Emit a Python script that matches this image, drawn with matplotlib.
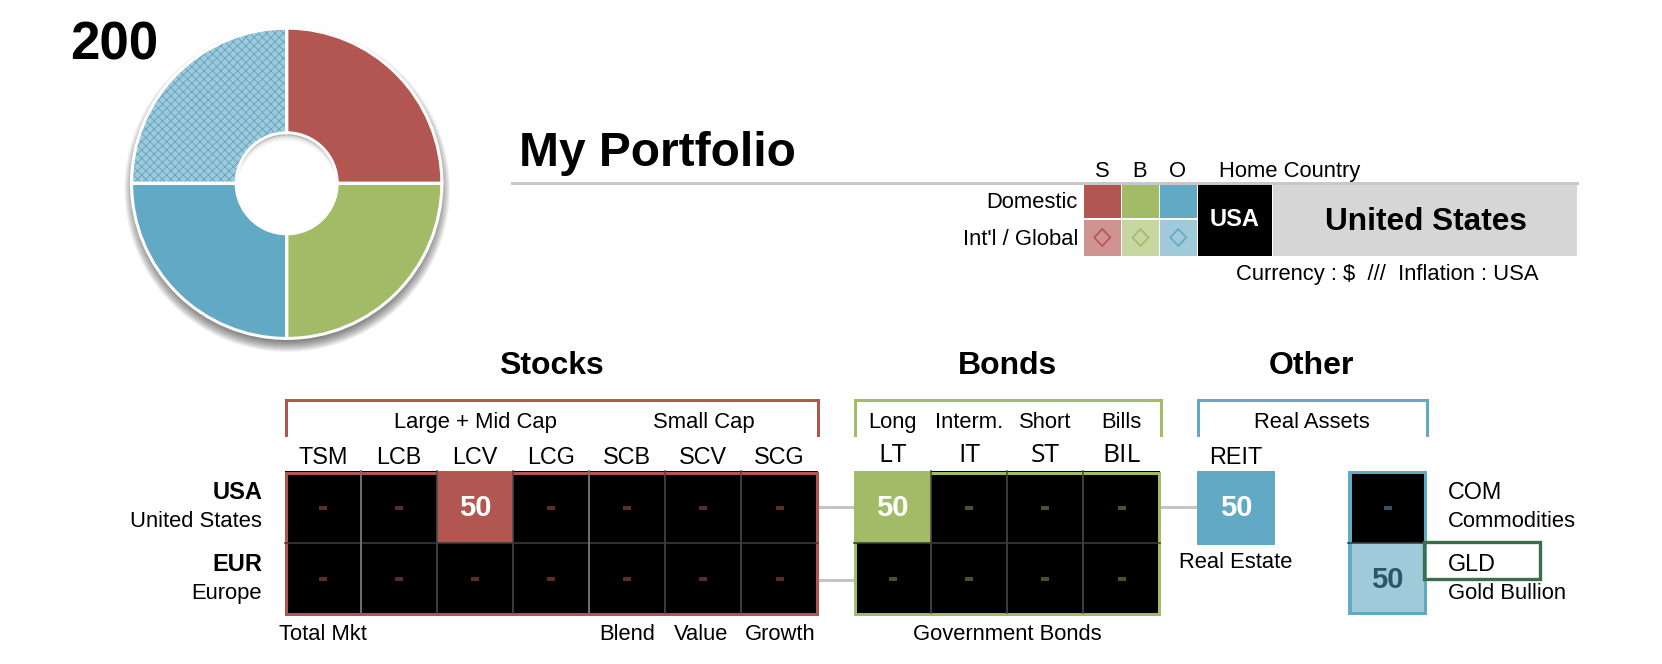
import matplotlib
matplotlib.use('Agg')
import matplotlib.pyplot as plt
from matplotlib.patches import Rectangle, Circle, Polygon

plt.rcParams['font.family'] = ['Liberation Sans', 'DejaVu Sans']
plt.rcParams['hatch.linewidth'] = 0.7

RED, GREEN, BLUE = '#B25651', '#A2BB67', '#62A9C5'
LRED, LGREEN, LBLUE = '#CF9391', '#C8D7A1', '#A0CADA'
DRED, DGREEN, DBLUE = '#5C2C2A', '#46542A', '#2C5568'

# data
total = 200
pie_values = [50, 50, 50, 50]
pie_colors = [RED, GREEN, BLUE, LBLUE]

stock_tickers = ['TSM', 'LCB', 'LCV', 'LCG', 'SCB', 'SCV', 'SCG']
stock_usa = [0, 0, 50, 0, 0, 0, 0]
stock_eur = [0, 0, 0, 0, 0, 0, 0]
bond_tickers = ['LT', 'IT', 'ST', 'BIL']
bond_headers = ['Long', 'Interm.', 'Short', 'Bills']
bond_usa = [50, 0, 0, 0]
bond_eur = [0, 0, 0, 0]
reit_value = 50
com_value = 0
gld_value = 50

fig = plt.figure(figsize=(16.62, 6.64), dpi=100)
ax = fig.add_axes([0, 0, 1, 1])
ax.set_xlim(0, 1662)
ax.set_ylim(664, 0)
ax.axis('off')


def txt(x, y, s, size=15.85, weight='normal', ha='center', color='black', **kw):
    ax.text(x, y, s, fontsize=size, fontweight=weight, ha=ha, va='center_baseline', color=color, zorder=10, **kw)


def box(x0, y0, x1, y1, color, z=2):
    ax.add_patch(Rectangle((x0, y0), x1 - x0, y1 - y0, facecolor=color, edgecolor='none', zorder=z))


def line(xs, ys, color, px=3, z=5):
    ax.plot(xs, ys, color=color, lw=px * 0.72, solid_capstyle='projecting', solid_joinstyle='miter', zorder=z)


# donut, shadows sit on the base axes under the pie
cx, cy = 286.7, 183.3
R, r = 156.7, 50.5
for i in range(14):
    ax.add_patch(Circle((cx + 0.5, cy + 6), R + 6 - i, facecolor='black', edgecolor='none', alpha=0.05, zorder=1))
ax.add_patch(Circle((cx, cy), r + 2, facecolor='#6E6E6E', edgecolor='none', zorder=1.5))
for i in range(1, 9):
    ax.add_patch(Circle((cx, cy + i), r, facecolor='white', edgecolor='none', alpha=0.35, zorder=1.6))
ax.add_patch(Circle((cx, cy + 8), r, facecolor='white', edgecolor='none', zorder=1.7))

pie_ax = fig.add_axes([(cx - R) / 1662, 1 - (cy + R) / 664, 2 * R / 1662, 2 * R / 664])
pie_ax.patch.set_alpha(0)
wedges, _ = pie_ax.pie(pie_values, colors=pie_colors, startangle=90, counterclock=False, radius=0.99,
                       wedgeprops=dict(width=0.99 - r / R, linewidth=0))
# hatch takes the edge colour, so the white outline goes on a second empty pie
wedges[3].set_edgecolor(BLUE)
wedges[3].set_hatch('xxxx')
pie_ax.pie(pie_values, colors=['none'] * 4, startangle=90, counterclock=False, radius=0.99,
           wedgeprops=dict(width=0.99 - r / R, edgecolor='white', linewidth=2.2))
pie_ax.set_xlim(-1, 1)
pie_ax.set_ylim(-1, 1)

txt(114.5, 40, str(total), size=38, weight='bold')

# title and home country panel
txt(519, 149, 'My Portfolio', size=34.5, weight='bold', ha='left')
line([512, 1577], [183, 183], '#C8C8C8', px=3, z=1)

cols = [(1084, 1120.5), (1122, 1159), (1160, 1196.5)]
for (x0, x1), c, lc in zip(cols, [RED, GREEN, BLUE], [LRED, LGREEN, LBLUE]):
    box(x0, 185, x1, 218, c)
    box(x0, 220, x1, 255.5, lc)
    xm = (x0 + x1) / 2
    ax.add_patch(Polygon([(xm, 229), (xm + 8, 237.5), (xm, 246), (xm - 8, 237.5)], closed=True,
                         facecolor='none', edgecolor=c, lw=1.2, zorder=3))
for x, s in zip([1102, 1140, 1178], ['S', 'B', 'O']):
    txt(x, 169, s)
txt(1290, 169, 'Home Country')
txt(1078, 200, 'Domestic', ha='right')
txt(1078, 237, "Int'l / Global", ha='right')
box(1198, 185, 1271.5, 255.5, 'black')
box(1273, 185, 1577, 255.5, '#D6D6D6')
txt(1235, 217, 'USA', size=17, weight='bold', color='white')
txt(1425.5, 219, 'United States', size=22.8, weight='bold')
txt(1387.5, 272, 'Currency : $  ///  Inflation : USA')

# section headers
txt(551, 363, 'Stocks', size=23, weight='bold')
txt(1007, 363, 'Bonds', size=23, weight='bold')
txt(1311.5, 363, 'Other', size=23, weight='bold')

# brackets
for x0, x1, c in [(286, 818, RED), (855, 1160.5, GREEN), (1198, 1427, BLUE)]:
    line([x0, x0, x1, x1], [435, 400, 400, 435], c)

txt(475, 420, 'Large + Mid Cap')
txt(703.5, 420, 'Small Cap')
txt(1311.5, 420, 'Real Assets')

# grids
top, mid, bot = 471, 543, 614.5
stock_x = [285, 361, 437, 513, 589, 665, 741, 818]
bond_x = [854, 931, 1007, 1083, 1160]


def grid(xs, usa, eur, color, dash, tickers):
    for i in range(len(usa)):
        x0, x1 = xs[i], xs[i + 1]
        xm = (x0 + x1) / 2
        if tickers is stock_tickers:
            txt(xm, 455, tickers[i], size=16.8)
        else:
            txt(xm, 452, tickers[i], size=19, family='Open Sans')
        for v, y0, y1 in [(usa[i], top, mid), (eur[i], mid, bot)]:
            box(x0, y0, x1, y1, color if v else 'black')
            if v:
                txt(xm, (y0 + y1) / 2 - 2, str(v), size=21, weight='bold', color='white')
            else:
                box(xm - 4, (y0 + y1) / 2 - 1.5, xm + 4, (y0 + y1) / 2 + 2.5, dash, z=3)
    line([xs[0] + 1, xs[0] + 1, xs[-1] - 1, xs[-1] - 1, xs[0] + 1], [bot - 1, top + 2, top + 2, bot - 1, bot - 1], color)
    for x in xs[1:-1]:
        line([x, x], [top, bot - 2], '#4A4A4A', px=1.6, z=6)
    line([xs[0], xs[-1]], [mid, mid], '#3C3C3C', px=1.6, z=6)


grid(stock_x, stock_usa, stock_eur, RED, DRED, stock_tickers)
grid(bond_x, bond_usa, bond_eur, GREEN, DGREEN, bond_tickers)
line([361, 361], [top, bot - 2], '#7A7A7A', px=1.6, z=6)
line([589, 589], [top, bot - 2], '#7A7A7A', px=1.6, z=6)

for x, s in zip([893, 969.5, 1045.5, 1121], bond_headers):
    txt(x, 420, s)

# connectors
line([819, 853], [507, 507], '#C4C4C4', px=3, z=1)
line([819, 853], [580, 580], '#C4C4C4', px=3, z=1)
line([1161, 1197], [507, 507], '#C4C4C4', px=3, z=1)

# REIT
box(1197, top, 1275, 545, BLUE)
txt(1236, 455, 'REIT', size=16.8)
txt(1236, 505, str(reit_value), size=21, weight='bold', color='white')
txt(1236, 560, 'Real Estate')

# commodities and gold
box(1348, top, 1427, bot, BLUE)
box(1352, top + 3, 1424, mid, 'black' if not com_value else BLUE, z=3)
box(1352, mid, 1424, bot - 3, LBLUE, z=3)
box(1384, 505.5, 1392, 509.5, DBLUE, z=4)
line([1348, 1427], [mid, mid], '#3C3C3C', px=1.6, z=6)
txt(1387, 577, str(gld_value), size=21, weight='bold', color=DBLUE)
txt(1448, 490, 'COM', size=16.8, ha='left')
txt(1448, 519, 'Commodities', ha='left')
txt(1448, 562, 'GLD', size=16.8, ha='left')
txt(1448, 591, 'Gold Bullion', ha='left')
ax.add_patch(Rectangle((1424, 542), 116, 37, facecolor='none', edgecolor='#3B6E48', lw=2.4, zorder=7))

# row labels and footers
txt(262, 490, 'USA', size=17, weight='bold', ha='right')
txt(262, 519, 'United States', ha='right')
txt(262, 562, 'EUR', size=17, weight='bold', ha='right')
txt(262, 591, 'Europe', ha='right')
txt(323, 632, 'Total Mkt')
txt(627.5, 632, 'Blend')
txt(701, 632, 'Value')
txt(780, 632, 'Growth')
txt(1007, 632, 'Government Bonds')

fig.savefig('out.png', dpi=100)
